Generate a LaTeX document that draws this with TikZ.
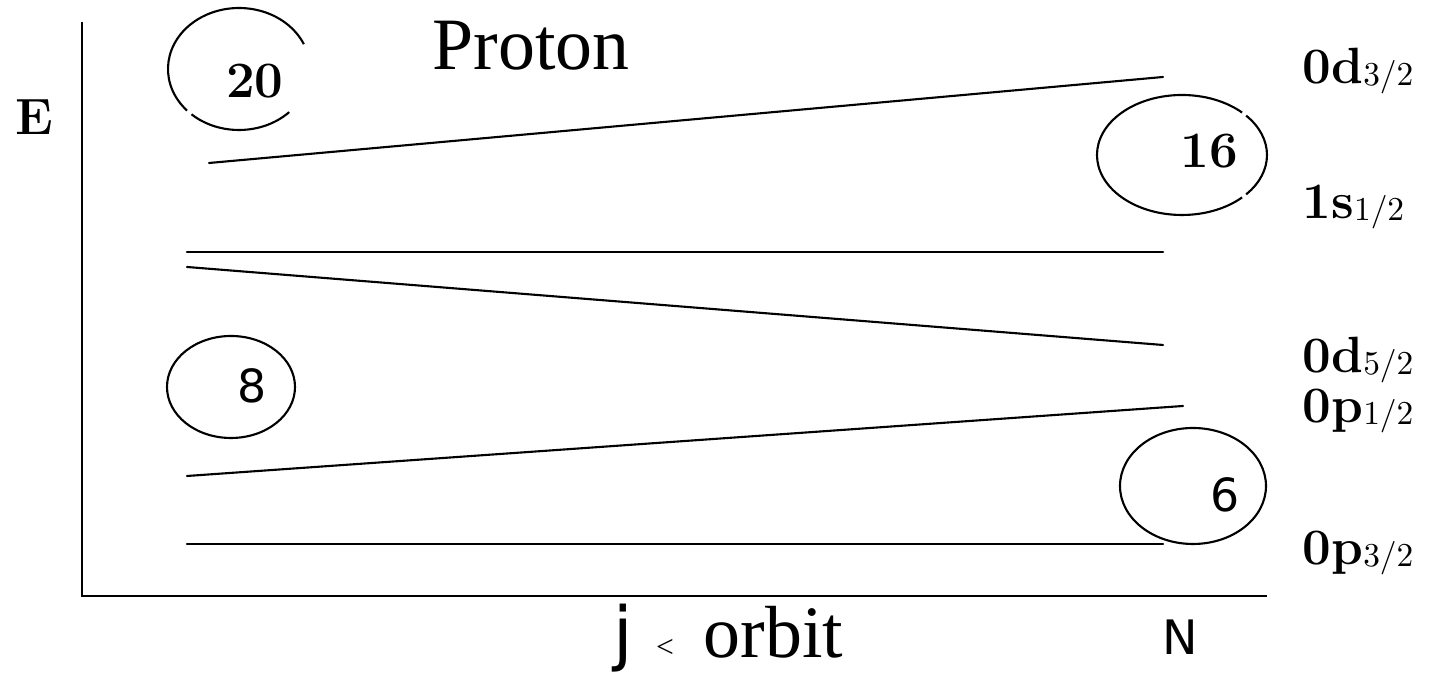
\documentclass[tikz,border=0pt]{standalone}
\usepackage{fontspec}
\newfontfamily\timesfont{Liberation Serif}
\newfontfamily\dejavufont{DejaVu Sans}
\usetikzlibrary{calc}
\tikzset{
  levelline/.style={line width=0.6pt, line cap=round},
  axisline/.style={line width=0.8pt},
  shellring/.style={line width=0.6pt},
  orbitlabel/.style={
    anchor=base west, inner sep=0pt,
    font=\fontsize{14.5}{16}\selectfont\bfseries
  },
  magicbf/.style={
    anchor=base, inner sep=0pt,
    font=\fontsize{14.5}{17}\selectfont\bfseries
  },
  magicsf/.style={
    anchor=base, inner sep=0pt,
    font=\fontsize{13}{15}\selectfont\dejavufont
  },
  titlelabel/.style={
    anchor=base west, inner sep=0pt,
    font=\fontsize{21}{24}\selectfont\timesfont
  },
}
\newcommand{\sublabel}[1]{\raisebox{-0.4pt}{\mdseries\fontsize{9.5}{11}\selectfont #1}}

\begin{document}
\begin{tikzpicture}[x=0.01cm, y=-0.01cm]
  \useasboundingbox (0,0) rectangle (1435,689);

  % axes
  \coordinate (top) at (82,22);
  \coordinate (origin) at (82,596);
  \coordinate (right) at (1267,596);
  \draw[axisline] (top) -- (origin) -- (right);

  % level end points
  \coordinate (d32a) at (209,163);  \coordinate (d32b) at (1163,77);
  \coordinate (s12a) at (187,252);  \coordinate (s12b) at (1163,252);
  \coordinate (d52a) at (187,267);  \coordinate (d52b) at (1163,345);
  \coordinate (p12a) at (187,476);  \coordinate (p12b) at (1183,406);
  \coordinate (p32a) at (187,544);  \coordinate (p32b) at (1163,544);

  \draw[levelline] (d32a) -- (d32b);
  \draw[levelline] (s12a) -- (s12b);
  \draw[levelline] (d52a) -- (d52b);
  \draw[levelline] (p12a) -- (p12b);
  \draw[levelline] (p32a) -- (p32b);

  % shell closures
  \coordinate (c20) at (239,69);
  \coordinate (c16) at (1182,155);
  \coordinate (c8) at (231,387);
  \coordinate (c6) at (1193,486);

  \draw[shellring] ($(c20)+({71*cos(45)},{61*sin(45)})$)
    arc[start angle=45, end angle=132, x radius=71, y radius=61];
  \draw[shellring] ($(c20)+({71*cos(137)},{61*sin(137)})$)
    arc[start angle=137, end angle=336, x radius=71, y radius=61];
  \draw[shellring] ($(c16)+({85*cos(45)},{60*sin(45)})$)
    arc[start angle=45, end angle=315, x radius=85, y radius=60];
  \draw[shellring] ($(c16)+({85*cos(-41)},{60*sin(-41)})$)
    arc[start angle=-41, end angle=41, x radius=85, y radius=60];
  \draw[shellring] (c8) ellipse [x radius=64, y radius=51];
  \draw[shellring] (c6) ellipse [x radius=73, y radius=58];

  \node[magicbf] (n20) at (255,98) {20};
  \node[magicbf] (n16) at (1209,168) {16};
  \node[magicsf] (n8) at (252,403) {8};
  \node[magicsf] (n6) at (1225,512) {6};

  % labels
  \node[titlelabel] (proton) at (432,70) {Proton};
  \node[anchor=base west, inner sep=0pt,
    font=\fontsize{14.5}{17}\selectfont\bfseries] (energy) at (15,135) {E};
  \node[orbitlabel] (l1) at (1302,84) {0d\sublabel{3/2}};
  \node[orbitlabel] (l2) at (1302,219) {1s\sublabel{1/2}};
  \node[orbitlabel] (l3) at (1302,373) {0d\sublabel{5/2}};
  \node[orbitlabel] (l4) at (1302,423) {0p\sublabel{1/2}};
  \node[orbitlabel] (l5) at (1302,565) {0p\sublabel{3/2}};

  \node[anchor=base west, inner sep=0pt,
    font=\fontsize{20}{24}\selectfont\dejavufont] (jorb) at (613,658)
    {j\hspace{6.5pt}{\timesfont\fontsize{9}{10}\selectfont <}\hspace{8.5pt}%
     {\timesfont\fontsize{21}{24}\selectfont orbit}};
  \node[magicsf, font=\fontsize{13.5}{16}\selectfont\dejavufont]
    (nlabel) at (1180,655) {N};
\end{tikzpicture}
\end{document}
